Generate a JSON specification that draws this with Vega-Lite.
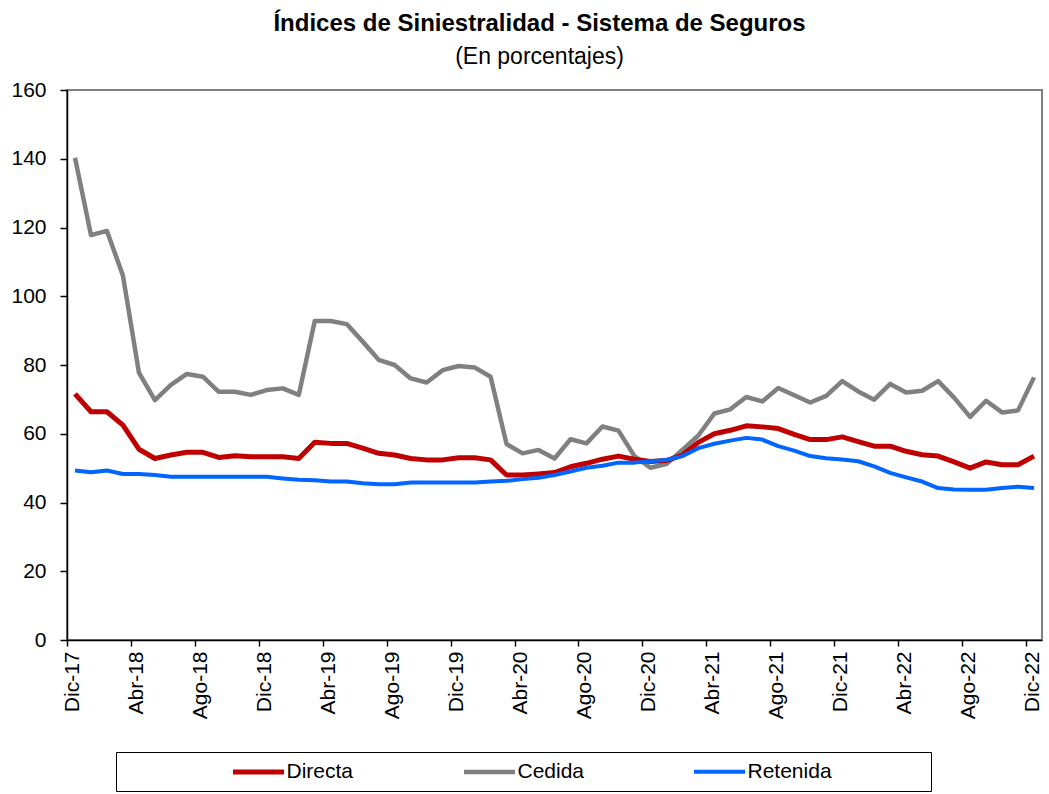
{
  "$schema": "https://vega.github.io/schema/vega-lite/v6.json",
  "autosize": {"type": "none"},
  "width": 975,
  "height": 550,
  "padding": {"left": 67, "top": 90, "right": 7, "bottom": 154},
  "background": "white",
  "title": {
    "text": "Índices de Siniestralidad  - Sistema de Seguros",
    "subtitle": "(En porcentajes)",
    "anchor": "middle",
    "frame": "group",
    "dx": -15,
    "offset": 10,
    "font": "Liberation Sans",
    "fontSize": 24,
    "fontWeight": "bold",
    "color": "black",
    "subtitleFont": "Liberation Sans",
    "subtitleFontSize": 23,
    "subtitleColor": "black",
    "subtitlePadding": 10
  },
  "data": {"values": [
    {"mes":"Dic-17","serie":"Cedida","valor":140.3},{"mes":"Ene-18","serie":"Cedida","valor":117.8},{"mes":"Feb-18","serie":"Cedida","valor":119.0},{"mes":"Mar-18","serie":"Cedida","valor":106.0},{"mes":"Abr-18","serie":"Cedida","valor":77.8},{"mes":"May-18","serie":"Cedida","valor":69.8},{"mes":"Jun-18","serie":"Cedida","valor":74.2},{"mes":"Jul-18","serie":"Cedida","valor":77.4},{"mes":"Ago-18","serie":"Cedida","valor":76.6},{"mes":"Sep-18","serie":"Cedida","valor":72.2},{"mes":"Oct-18","serie":"Cedida","valor":72.2},{"mes":"Nov-18","serie":"Cedida","valor":71.3},{"mes":"Dic-18","serie":"Cedida","valor":72.7},
    {"mes":"Ene-19","serie":"Cedida","valor":73.2},{"mes":"Feb-19","serie":"Cedida","valor":71.3},{"mes":"Mar-19","serie":"Cedida","valor":92.8},{"mes":"Abr-19","serie":"Cedida","valor":92.8},{"mes":"May-19","serie":"Cedida","valor":91.9},{"mes":"Jun-19","serie":"Cedida","valor":86.8},{"mes":"Jul-19","serie":"Cedida","valor":81.5},{"mes":"Ago-19","serie":"Cedida","valor":80.0},{"mes":"Sep-19","serie":"Cedida","valor":76.1},{"mes":"Oct-19","serie":"Cedida","valor":74.9},{"mes":"Nov-19","serie":"Cedida","valor":78.5},{"mes":"Dic-19","serie":"Cedida","valor":79.7},
    {"mes":"Ene-20","serie":"Cedida","valor":79.3},{"mes":"Feb-20","serie":"Cedida","valor":76.6},{"mes":"Mar-20","serie":"Cedida","valor":57.0},{"mes":"Abr-20","serie":"Cedida","valor":54.3},{"mes":"May-20","serie":"Cedida","valor":55.3},{"mes":"Jun-20","serie":"Cedida","valor":52.8},{"mes":"Jul-20","serie":"Cedida","valor":58.4},{"mes":"Ago-20","serie":"Cedida","valor":57.2},{"mes":"Sep-20","serie":"Cedida","valor":62.1},{"mes":"Oct-20","serie":"Cedida","valor":60.9},{"mes":"Nov-20","serie":"Cedida","valor":53.5},{"mes":"Dic-20","serie":"Cedida","valor":50.1},
    {"mes":"Ene-21","serie":"Cedida","valor":51.2},{"mes":"Feb-21","serie":"Cedida","valor":55.3},{"mes":"Mar-21","serie":"Cedida","valor":59.5},{"mes":"Abr-21","serie":"Cedida","valor":65.9},{"mes":"May-21","serie":"Cedida","valor":67.1},{"mes":"Jun-21","serie":"Cedida","valor":70.7},{"mes":"Jul-21","serie":"Cedida","valor":69.4},{"mes":"Ago-21","serie":"Cedida","valor":73.3},{"mes":"Sep-21","serie":"Cedida","valor":71.2},{"mes":"Oct-21","serie":"Cedida","valor":69.1},{"mes":"Nov-21","serie":"Cedida","valor":71.0},{"mes":"Dic-21","serie":"Cedida","valor":75.3},
    {"mes":"Ene-22","serie":"Cedida","valor":72.3},{"mes":"Feb-22","serie":"Cedida","valor":69.9},{"mes":"Mar-22","serie":"Cedida","valor":74.5},{"mes":"Abr-22","serie":"Cedida","valor":72.0},{"mes":"May-22","serie":"Cedida","valor":72.5},{"mes":"Jun-22","serie":"Cedida","valor":75.3},{"mes":"Jul-22","serie":"Cedida","valor":70.5},{"mes":"Ago-22","serie":"Cedida","valor":64.9},{"mes":"Sep-22","serie":"Cedida","valor":69.6},{"mes":"Oct-22","serie":"Cedida","valor":66.2},{"mes":"Nov-22","serie":"Cedida","valor":66.8},{"mes":"Dic-22","serie":"Cedida","valor":76.4},

    {"mes":"Dic-17","serie":"Directa","valor":71.6},{"mes":"Ene-18","serie":"Directa","valor":66.4},{"mes":"Feb-18","serie":"Directa","valor":66.4},{"mes":"Mar-18","serie":"Directa","valor":62.5},{"mes":"Abr-18","serie":"Directa","valor":55.5},{"mes":"May-18","serie":"Directa","valor":52.8},{"mes":"Jun-18","serie":"Directa","valor":53.8},{"mes":"Jul-18","serie":"Directa","valor":54.6},{"mes":"Ago-18","serie":"Directa","valor":54.6},{"mes":"Sep-18","serie":"Directa","valor":53.1},{"mes":"Oct-18","serie":"Directa","valor":53.6},{"mes":"Nov-18","serie":"Directa","valor":53.3},{"mes":"Dic-18","serie":"Directa","valor":53.3},
    {"mes":"Ene-19","serie":"Directa","valor":53.3},{"mes":"Feb-19","serie":"Directa","valor":52.8},{"mes":"Mar-19","serie":"Directa","valor":57.5},{"mes":"Abr-19","serie":"Directa","valor":57.2},{"mes":"May-19","serie":"Directa","valor":57.2},{"mes":"Jun-19","serie":"Directa","valor":55.8},{"mes":"Jul-19","serie":"Directa","valor":54.3},{"mes":"Ago-19","serie":"Directa","valor":53.8},{"mes":"Sep-19","serie":"Directa","valor":52.8},{"mes":"Oct-19","serie":"Directa","valor":52.4},{"mes":"Nov-19","serie":"Directa","valor":52.4},{"mes":"Dic-19","serie":"Directa","valor":53.0},
    {"mes":"Ene-20","serie":"Directa","valor":53.0},{"mes":"Feb-20","serie":"Directa","valor":52.4},{"mes":"Mar-20","serie":"Directa","valor":48.0},{"mes":"Abr-20","serie":"Directa","valor":48.0},{"mes":"May-20","serie":"Directa","valor":48.3},{"mes":"Jun-20","serie":"Directa","valor":48.7},{"mes":"Jul-20","serie":"Directa","valor":50.4},{"mes":"Ago-20","serie":"Directa","valor":51.4},{"mes":"Sep-20","serie":"Directa","valor":52.6},{"mes":"Oct-20","serie":"Directa","valor":53.5},{"mes":"Nov-20","serie":"Directa","valor":52.6},{"mes":"Dic-20","serie":"Directa","valor":51.9},
    {"mes":"Ene-21","serie":"Directa","valor":52.2},{"mes":"Feb-21","serie":"Directa","valor":53.8},{"mes":"Mar-21","serie":"Directa","valor":57.5},{"mes":"Abr-21","serie":"Directa","valor":60.0},{"mes":"May-21","serie":"Directa","valor":61.0},{"mes":"Jun-21","serie":"Directa","valor":62.3},{"mes":"Jul-21","serie":"Directa","valor":62.0},{"mes":"Ago-21","serie":"Directa","valor":61.5},{"mes":"Sep-21","serie":"Directa","valor":59.8},{"mes":"Oct-21","serie":"Directa","valor":58.3},{"mes":"Nov-21","serie":"Directa","valor":58.3},{"mes":"Dic-21","serie":"Directa","valor":59.1},
    {"mes":"Ene-22","serie":"Directa","valor":57.7},{"mes":"Feb-22","serie":"Directa","valor":56.4},{"mes":"Mar-22","serie":"Directa","valor":56.4},{"mes":"Abr-22","serie":"Directa","valor":54.9},{"mes":"May-22","serie":"Directa","valor":53.9},{"mes":"Jun-22","serie":"Directa","valor":53.5},{"mes":"Jul-22","serie":"Directa","valor":51.8},{"mes":"Ago-22","serie":"Directa","valor":50.0},{"mes":"Sep-22","serie":"Directa","valor":51.8},{"mes":"Oct-22","serie":"Directa","valor":51.0},{"mes":"Nov-22","serie":"Directa","valor":51.0},{"mes":"Dic-22","serie":"Directa","valor":53.5},

    {"mes":"Dic-17","serie":"Retenida","valor":49.3},{"mes":"Ene-18","serie":"Retenida","valor":48.8},{"mes":"Feb-18","serie":"Retenida","valor":49.3},{"mes":"Mar-18","serie":"Retenida","valor":48.3},{"mes":"Abr-18","serie":"Retenida","valor":48.3},{"mes":"May-18","serie":"Retenida","valor":48.0},{"mes":"Jun-18","serie":"Retenida","valor":47.5},{"mes":"Jul-18","serie":"Retenida","valor":47.5},{"mes":"Ago-18","serie":"Retenida","valor":47.5},{"mes":"Sep-18","serie":"Retenida","valor":47.5},{"mes":"Oct-18","serie":"Retenida","valor":47.5},{"mes":"Nov-18","serie":"Retenida","valor":47.5},{"mes":"Dic-18","serie":"Retenida","valor":47.5},
    {"mes":"Ene-19","serie":"Retenida","valor":47.0},{"mes":"Feb-19","serie":"Retenida","valor":46.6},{"mes":"Mar-19","serie":"Retenida","valor":46.5},{"mes":"Abr-19","serie":"Retenida","valor":46.1},{"mes":"May-19","serie":"Retenida","valor":46.1},{"mes":"Jun-19","serie":"Retenida","valor":45.6},{"mes":"Jul-19","serie":"Retenida","valor":45.3},{"mes":"Ago-19","serie":"Retenida","valor":45.3},{"mes":"Sep-19","serie":"Retenida","valor":45.8},{"mes":"Oct-19","serie":"Retenida","valor":45.8},{"mes":"Nov-19","serie":"Retenida","valor":45.8},{"mes":"Dic-19","serie":"Retenida","valor":45.8},
    {"mes":"Ene-20","serie":"Retenida","valor":45.8},{"mes":"Feb-20","serie":"Retenida","valor":46.1},{"mes":"Mar-20","serie":"Retenida","valor":46.3},{"mes":"Abr-20","serie":"Retenida","valor":46.8},{"mes":"May-20","serie":"Retenida","valor":47.2},{"mes":"Jun-20","serie":"Retenida","valor":48.0},{"mes":"Jul-20","serie":"Retenida","valor":49.0},{"mes":"Ago-20","serie":"Retenida","valor":50.1},{"mes":"Sep-20","serie":"Retenida","valor":50.7},{"mes":"Oct-20","serie":"Retenida","valor":51.6},{"mes":"Nov-20","serie":"Retenida","valor":51.6},{"mes":"Dic-20","serie":"Retenida","valor":52.0},
    {"mes":"Ene-21","serie":"Retenida","valor":52.4},{"mes":"Feb-21","serie":"Retenida","valor":53.5},{"mes":"Mar-21","serie":"Retenida","valor":55.8},{"mes":"Abr-21","serie":"Retenida","valor":57.1},{"mes":"May-21","serie":"Retenida","valor":58.0},{"mes":"Jun-21","serie":"Retenida","valor":58.8},{"mes":"Jul-21","serie":"Retenida","valor":58.3},{"mes":"Ago-21","serie":"Retenida","valor":56.4},{"mes":"Sep-21","serie":"Retenida","valor":55.1},{"mes":"Oct-21","serie":"Retenida","valor":53.5},{"mes":"Nov-21","serie":"Retenida","valor":52.9},{"mes":"Dic-21","serie":"Retenida","valor":52.5},
    {"mes":"Ene-22","serie":"Retenida","valor":52.0},{"mes":"Feb-22","serie":"Retenida","valor":50.5},{"mes":"Mar-22","serie":"Retenida","valor":48.6},{"mes":"Abr-22","serie":"Retenida","valor":47.3},{"mes":"May-22","serie":"Retenida","valor":46.1},{"mes":"Jun-22","serie":"Retenida","valor":44.2},{"mes":"Jul-22","serie":"Retenida","valor":43.8},{"mes":"Ago-22","serie":"Retenida","valor":43.7},{"mes":"Sep-22","serie":"Retenida","valor":43.7},{"mes":"Oct-22","serie":"Retenida","valor":44.2},{"mes":"Nov-22","serie":"Retenida","valor":44.6},{"mes":"Dic-22","serie":"Retenida","valor":44.2}
  ]},
  "mark": {"type": "line", "strokeJoin": "round", "strokeCap": "butt"},
  "encoding": {
    "x": {
      "field": "mes",
      "type": "ordinal",
      "sort": null,
      "scale": {"type": "point", "padding": 0.5},
      "axis": {
        "title": null,
        "values": ["Dic-17","Abr-18","Ago-18","Dic-18","Abr-19","Ago-19","Dic-19","Abr-20","Ago-20","Dic-20","Abr-21","Ago-21","Dic-21","Abr-22","Ago-22","Dic-22"],
        "labelAngle": -90,
        "labelFont": "Liberation Sans",
        "labelFontSize": 21,
        "labelColor": "black",
        "labelPadding": 5,
        "labelOffset": 6,
        "tickOffset": -8,
        "tickSize": 6,
        "tickColor": "black",
        "tickWidth": 1.5,
        "domainColor": "black",
        "domainWidth": 1.5,
        "grid": false
      }
    },
    "y": {
      "field": "valor",
      "type": "quantitative",
      "scale": {"domain": [0, 160], "nice": false, "zero": true},
      "axis": {
        "title": null,
        "values": [0, 20, 40, 60, 80, 100, 120, 140, 160],
        "labelFont": "Liberation Sans",
        "labelFontSize": 21,
        "labelColor": "black",
        "labelPadding": 14,
        "tickSize": 7,
        "tickColor": "black",
        "tickWidth": 1.5,
        "domainColor": "black",
        "domainWidth": 1.5,
        "grid": false
      }
    },
    "color": {
      "field": "serie",
      "type": "nominal",
      "scale": {"domain": ["Directa", "Cedida", "Retenida"], "range": ["#C00000", "#808080", "#0066FF"]},
      "legend": {
        "title": "\u2800\u2800\u2800\u2800\u2800\u2800\u2800\u2800\u2800",
        "titleOrient": "left",
        "titleFont": "Liberation Sans",
        "titleFontSize": 16,
        "titlePadding": 0,
        "orient": "none",
        "legendX": 49,
        "legendY": 662,
        "direction": "horizontal",
        "columns": 3,
        "gridAlign": "each",
        "columnPadding": 101,
        "padding": 9,
        "strokeColor": "black",
        "symbolType": "M-3,0H3",
        "symbolSize": 289,
        "symbolStrokeWidth": 5,
        "symbolOffset": 14.5,
        "labelFont": "Liberation Sans",
        "labelFontSize": 21,
        "labelColor": "black",
        "labelOffset": 17,
        "labelLimit": 0,
        "labelExpr": "datum.label === 'Retenida' ? datum.label + '\u2800\u2800\u2800\u2800\u2800\u2800' : datum.label"
      }
    },
    "strokeWidth": {
      "field": "serie",
      "type": "nominal",
      "scale": {"domain": ["Directa", "Cedida", "Retenida"], "range": [5, 4, 5]},
      "legend": null
    }
  },
  "config": {
    "view": {"stroke": "#808080", "strokeWidth": 2}
  }
}
